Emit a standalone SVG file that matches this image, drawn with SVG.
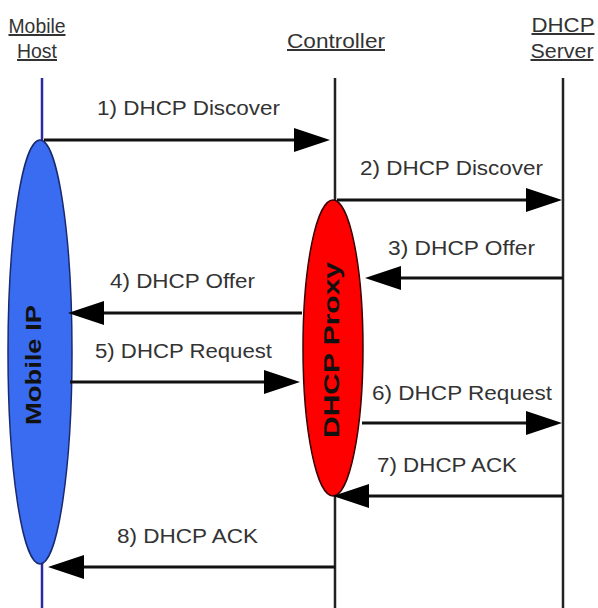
<svg xmlns="http://www.w3.org/2000/svg" width="598" height="608" viewBox="0 0 598 608">
<defs>
<style>
.hdr{font-family:"Liberation Sans",Arial,sans-serif;font-size:20px;fill:#333;text-anchor:middle;text-decoration:underline}
.lbl{font-family:"Liberation Sans",Arial,sans-serif;font-size:20px;fill:#333}
.big{font-family:"Liberation Sans",Arial,sans-serif;font-size:22px;font-weight:bold;fill:#111;text-anchor:middle}
.life{stroke:#222;stroke-width:2.5;fill:none}
.msg{stroke:#111;stroke-width:3;fill:none;marker-end:url(#ah)}
</style>
<marker id="ah" markerUnits="userSpaceOnUse" markerWidth="36" markerHeight="26" refX="26" refY="12" orient="auto" viewBox="0 0 36 24">
<path d="M0,0 L36,12 L0,24 Z" fill="#000"/>
</marker>
</defs>
<rect width="598" height="608" fill="#fff"/>
<g id="mobile-host">
<text class="hdr" x="37" y="33" textLength="57" lengthAdjust="spacingAndGlyphs">Mobile</text>
<text class="hdr" x="37" y="58" textLength="40" lengthAdjust="spacingAndGlyphs">Host</text>
<line x1="42" y1="78" x2="42" y2="608" stroke="#2a2aa0" stroke-width="2.5"/>
</g>
<g id="controller">
<text class="hdr" x="336" y="48" textLength="98" lengthAdjust="spacingAndGlyphs">Controller</text>
<line class="life" x1="335" y1="78" x2="335" y2="608"/>
</g>
<g id="dhcp-server">
<text class="hdr" x="563" y="32" textLength="63" lengthAdjust="spacingAndGlyphs">DHCP</text>
<text class="hdr" x="562" y="58" textLength="63" lengthAdjust="spacingAndGlyphs">Server</text>
<line class="life" x1="563" y1="78" x2="563" y2="608"/>
</g>
<g id="mobile-ip">
<ellipse cx="40" cy="352" rx="32" ry="212" fill="#3a6cf2" stroke="#1a2a70" stroke-width="1.5"/>
<text class="big" transform="translate(41,365) rotate(-90)" textLength="120" lengthAdjust="spacingAndGlyphs">Mobile IP</text>
</g>
<g id="dhcp-proxy">
<ellipse cx="333" cy="348" rx="30" ry="148" fill="#ff0000" stroke="#3a0000" stroke-width="1.5"/>
<text class="big" transform="translate(339,350) rotate(-90)" textLength="176" lengthAdjust="spacingAndGlyphs">DHCP Proxy</text>
</g>
<g id="connectors">
<line class="msg" x1="44" y1="140" x2="320" y2="140"/>
<line class="msg" x1="337" y1="200" x2="552" y2="200"/>
<line class="msg" x1="563" y1="278" x2="375" y2="278"/>
<line class="msg" x1="302" y1="313" x2="78" y2="313"/>
<line class="msg" x1="70" y1="382" x2="290" y2="382"/>
<line class="msg" x1="362" y1="423" x2="552" y2="423"/>
<line class="msg" x1="563" y1="496" x2="343" y2="496"/>
<line class="msg" x1="335" y1="567" x2="58" y2="567"/>
</g>
<g id="labels">
<text class="lbl" x="97" y="115" textLength="183" lengthAdjust="spacingAndGlyphs">1) DHCP Discover</text>
<text class="lbl" x="360" y="175" textLength="183" lengthAdjust="spacingAndGlyphs">2) DHCP Discover</text>
<text class="lbl" x="388" y="255" textLength="147" lengthAdjust="spacingAndGlyphs">3) DHCP Offer</text>
<text class="lbl" x="110" y="288" textLength="145" lengthAdjust="spacingAndGlyphs">4) DHCP Offer</text>
<text class="lbl" x="95" y="358" textLength="177" lengthAdjust="spacingAndGlyphs">5) DHCP Request</text>
<text class="lbl" x="372" y="400" textLength="180" lengthAdjust="spacingAndGlyphs">6) DHCP Request</text>
<text class="lbl" x="377" y="472" textLength="140" lengthAdjust="spacingAndGlyphs">7) DHCP ACK</text>
<text class="lbl" x="117" y="543" textLength="141" lengthAdjust="spacingAndGlyphs">8) DHCP ACK</text>
</g>
</svg>
